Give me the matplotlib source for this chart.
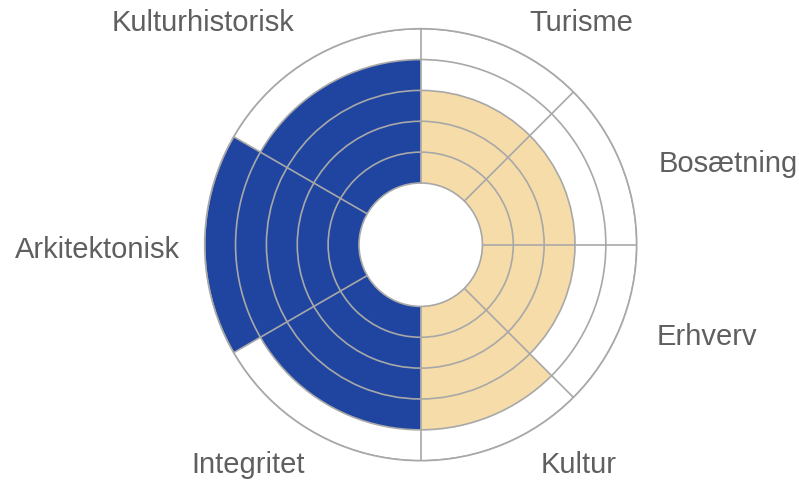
import matplotlib
matplotlib.use("Agg")
import matplotlib.pyplot as plt
import numpy as np

# sectors clockwise from north
categories = ["Turisme", "Bosætning", "Erhverv", "Kultur",
              "Integritet", "Arkitektonisk", "Kulturhistorisk"]
sector_deg = [45, 45, 45, 45, 60, 60, 60]
values = [3, 3, 3, 4, 4, 5, 4]
groups = ["tan", "tan", "tan", "tan", "blue", "blue", "blue"]

COLORS = {"blue": "#1f45a0", "tan": "#f6dca8"}
GRID = "#a8a8a8"
TEXT = "#5f5f5f"

# label baseline positions in pixels (x centre, y from top)
label_pos = {
    "Kulturhistorisk": (203.5, 30.7),
    "Turisme": (581.5, 31),
    "Bosætning": (728, 171.7),
    "Erhverv": (707, 345),
    "Kultur": (579, 473),
    "Integritet": (248, 473.3),
    "Arkitektonisk": (97.5, 258.3),
}

W, H = 799, 481
fig = plt.figure(figsize=(W / 100, H / 100), dpi=100)

cx, cy, R = 420.7, 245.7, 216
ax = fig.add_axes([(cx - R) / W, (H - cy - R) / H, 2 * R / W, 2 * R / H],
                  projection="polar")
ax.set_theta_zero_location("N")
ax.set_theta_direction(-1)

edges = np.deg2rad(np.concatenate([[0], np.cumsum(sector_deg)]))
widths = np.diff(edges)
colors = [COLORS[g] for g in groups]

ax.bar(edges[:-1], values, width=widths, bottom=0, align="edge",
       color=colors, linewidth=0)

ax.set_rorigin(-2)
ax.set_ylim(0, 5)
ax.set_xticks(edges[:-1])
ax.set_xticklabels([])
ax.set_yticks(range(1, 6))
ax.set_yticklabels([])
ax.grid(True, color=GRID, linewidth=1.2)
ax.set_axisbelow(False)
for s in ax.spines.values():
    s.set_color(GRID)
    s.set_linewidth(1.2)

for name in categories:
    x, y = label_pos[name]
    fig.text(x / W, 1 - y / H, name, ha="center", va="baseline",
             fontsize=21, color=TEXT, family=["Liberation Sans", "DejaVu Sans"])

fig.savefig("out.png", dpi=100)
